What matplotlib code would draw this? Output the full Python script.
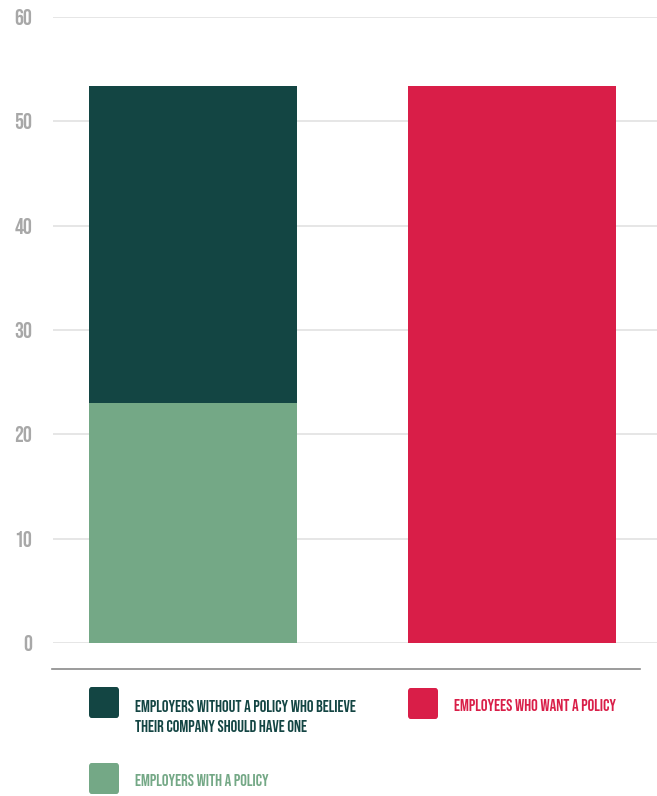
import matplotlib
matplotlib.use("Agg")
import matplotlib.pyplot as plt
from matplotlib.patches import FancyBboxPatch
from matplotlib.lines import Line2D

# policy survey: stacked employer bar vs employee bar
groups = ["Employers", "Employees"]
with_policy = [23.0, 0.0]
without_but_should = [30.4, 0.0]
want_policy = [0.0, 53.4]

series_labels = [
    "EMPLOYERS WITHOUT A POLICY WHO BELIEVE\nTHEIR COMPANY SHOULD HAVE ONE",
    "EMPLOYEES WHO WANT A POLICY",
    "EMPLOYERS WITH A POLICY",
]
yticks = [0, 10, 20, 30, 40, 50, 60]

DARK = "#134543"
LIGHT = "#74a886"
RED = "#d91e48"
GRAY = "#a8a8a8"

plt.rcParams["font.family"] = ["Bebas Neue", "League Gothic", "Oswald", "DejaVu Sans"]

W, H = 657, 796
fig = plt.figure(figsize=(W / 100, H / 100), dpi=100)
ax = fig.add_axes([53 / W, 153 / H, 604 / W, 626 / H])

x = range(len(groups))
bw = 0.652
ax.bar(x, with_policy, width=bw, color=LIGHT, zorder=2)
ax.bar(x, without_but_should, width=bw, bottom=with_policy, color=DARK, zorder=2)
ax.bar(x, want_policy, width=bw, color=RED, zorder=2)

ax.set_xlim(-0.44, 1.455)
ax.set_ylim(0, 60)
ax.set_yticks(yticks)
ax.set_xticks([])
ax.yaxis.grid(True, color="#e2e2e2", lw=1.2, zorder=0)
for s in ax.spines.values():
    s.set_visible(False)
ax.tick_params(axis="y", length=0, pad=15, labelsize=16, labelcolor=GRAY)

# separator above the legend
fig.add_artist(Line2D([52 / W, 640 / W], [1 - 669 / H, 1 - 669 / H],
                      color="#8a8a8a", lw=1.2, transform=fig.transFigure))

# legend swatches and labels (x, swatch top, last baseline in px)
legend_items = [
    (series_labels[0], DARK, 89, 687, 732),
    (series_labels[1], RED, 408, 688, 711),
    (series_labels[2], LIGHT, 89, 763, 786),
]
for label, color, px, py, base in legend_items:
    box = FancyBboxPatch((px / W, 1 - (py + 31) / H), 30 / W, 31 / H,
                         boxstyle="round,pad=0,rounding_size=0.004",
                         transform=fig.transFigure, facecolor=color,
                         edgecolor="none")
    fig.add_artist(box)
    fig.text((px + 46) / W, 1 - base / H, label, color=color, fontsize=12,
             va="baseline", ha="left", linespacing=1.7)

fig.savefig("out.png", dpi=100)
